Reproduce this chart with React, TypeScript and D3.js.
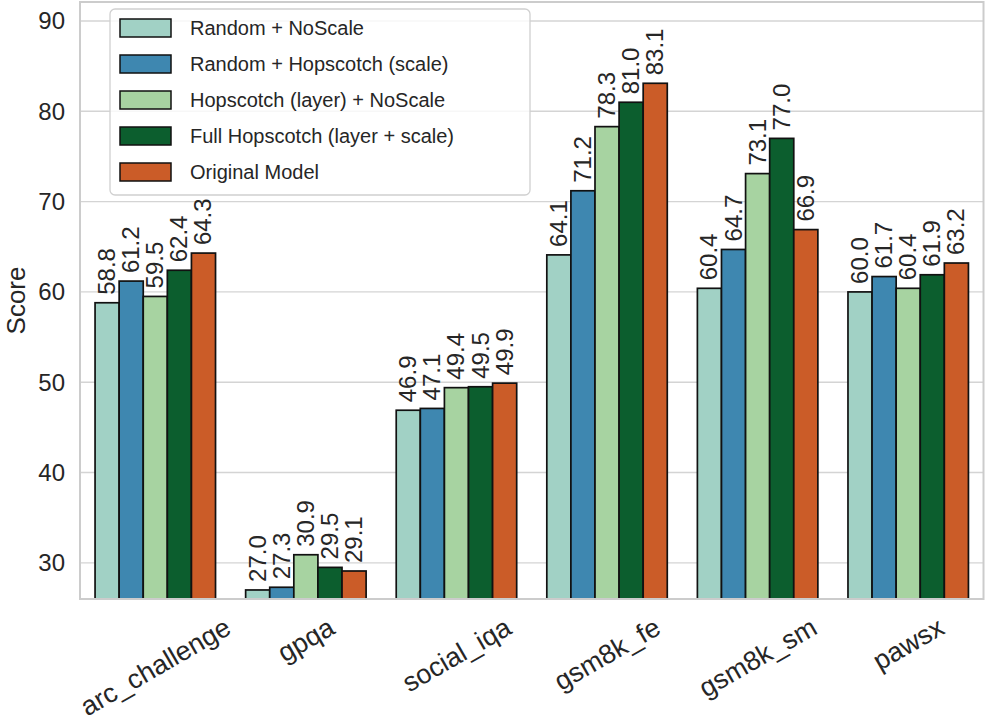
import React, { useEffect, useRef } from 'react';
import * as d3 from 'd3';

const categories = ['arc_challenge', 'gpqa', 'social_iqa', 'gsm8k_fe', 'gsm8k_sm', 'pawsx'];
const seriesNames = [
  'Random + NoScale',
  'Random + Hopscotch (scale)',
  'Hopscotch (layer) + NoScale',
  'Full Hopscotch (layer + scale)',
  'Original Model',
];
const seriesColors = ['#a1d1c5', '#3e87b0', '#a7d3a1', '#0c5e2e', '#cb5c28'];

// values per series, in category order
const randomNoScale = [58.8, 27.0, 46.9, 64.1, 60.4, 60.0];
const randomHopscotch = [61.2, 27.3, 47.1, 71.2, 64.7, 61.7];
const hopscotchLayer = [59.5, 30.9, 49.4, 78.3, 73.1, 60.4];
const fullHopscotch = [62.4, 29.5, 49.5, 81.0, 77.0, 61.9];
const originalModel = [64.3, 29.1, 49.9, 83.1, 66.9, 63.2];
const seriesValues = [randomNoScale, randomHopscotch, hopscotchLayer, fullHopscotch, originalModel];

const yTicks = [30, 40, 50, 60, 70, 80, 90];

const W = 987;
const H = 721;
const FONT = '"Liberation Sans", Arial, sans-serif';

export default function App() {
  const ref = useRef<SVGSVGElement>(null);

  useEffect(() => {
    document.body.style.margin = '0';
    const svg = d3.select(ref.current);
    svg.selectAll('*').remove();

    const left = 80;
    const right = 983.5;
    const top = 2;
    const bottom = 599;

    const x = d3.scaleBand().domain(categories).range([left, right]).paddingInner(0).paddingOuter(0);
    const y = d3.scaleLinear().domain([26, 92.1]).range([bottom, top]);
    const groupW = x.bandwidth() * 0.8;
    const bw = groupW / seriesNames.length;

    // gridlines
    svg
      .append('g')
      .selectAll('line')
      .data(yTicks)
      .join('line')
      .attr('x1', left)
      .attr('x2', right)
      .attr('y1', (d) => y(d))
      .attr('y2', (d) => y(d))
      .attr('stroke', '#d4d4d4')
      .attr('stroke-width', 1.4);

    // bars + value labels
    const bars = svg.append('g');
    seriesValues.forEach((vals, si) => {
      const g = bars.append('g');
      g.selectAll('rect')
        .data(vals)
        .join('rect')
        .attr('x', (_, i) => x(categories[i])! + x.bandwidth() / 2 - groupW / 2 + si * bw)
        .attr('y', (d) => y(d))
        .attr('width', bw)
        .attr('height', (d) => y(26) - y(d))
        .attr('fill', seriesColors[si])
        .attr('stroke', '#111')
        .attr('stroke-width', 1.7);

      g.selectAll('text')
        .data(vals)
        .join('text')
        .attr('transform', (d, i) => {
          const cx = x(categories[i])! + x.bandwidth() / 2 - groupW / 2 + si * bw + bw / 2;
          return `translate(${cx + 8},${y(d) - 8}) rotate(-90)`;
        })
        .attr('font-family', FONT)
        .attr('font-size', 24)
        .attr('fill', '#262626')
        .text((d) => d.toFixed(1));
    });

    // spines
    svg
      .append('rect')
      .attr('x', left)
      .attr('y', top)
      .attr('width', right - left)
      .attr('height', bottom - top)
      .attr('fill', 'none')
      .attr('stroke', '#cccccc')
      .attr('stroke-width', 2);

    // y ticks
    svg
      .append('g')
      .selectAll('text')
      .data(yTicks)
      .join('text')
      .attr('x', left - 15)
      .attr('y', (d) => y(d))
      .attr('dy', '0.35em')
      .attr('text-anchor', 'end')
      .attr('font-family', FONT)
      .attr('font-size', 24)
      .attr('fill', '#262626')
      .text((d) => d);

    // y label
    svg
      .append('text')
      .attr('transform', `translate(25,${(top + bottom) / 2}) rotate(-90)`)
      .attr('text-anchor', 'middle')
      .attr('font-family', FONT)
      .attr('font-size', 26)
      .attr('fill', '#262626')
      .text('Score');

    // x tick labels, rotated 30deg, centred on tick (matplotlib ha=center)
    const fs = 27;
    const xl = svg.append('g');
    categories.forEach((c) => {
      const t = xl
        .append('text')
        .attr('text-anchor', 'middle')
        .attr('font-family', FONT)
        .attr('font-size', fs)
        .attr('fill', '#262626')
        .attr('y', fs * 0.35)
        .text(c);
      const L = (t.node() as SVGTextElement).getComputedTextLength();
      const hb = fs * 1.15;
      const bboxH = L * 0.5 + hb * 0.866;
      const cy = 611 + bboxH / 2;
      const cx = x(c)! + x.bandwidth() / 2;
      t.attr('transform', `translate(${cx},${cy}) rotate(-30)`);
    });

    // legend
    const lg = svg.append('g');
    lg.append('rect')
      .attr('x', 110)
      .attr('y', 9)
      .attr('width', 420)
      .attr('height', 186)
      .attr('rx', 5)
      .attr('fill', 'white')
      .attr('fill-opacity', 0.8)
      .attr('stroke', '#d0d0d0')
      .attr('stroke-width', 1.3);
    const rowY = d3.scaleLinear().domain([0, seriesNames.length - 1]).range([28, 172]);
    const rows = lg
      .selectAll('g.row')
      .data(seriesNames)
      .join('g')
      .attr('class', 'row')
      .attr('transform', (_, i) => `translate(0,${rowY(i)})`);
    rows
      .append('rect')
      .attr('x', 120)
      .attr('y', -9)
      .attr('width', 51)
      .attr('height', 18)
      .attr('fill', (_, i) => seriesColors[i])
      .attr('stroke', '#111')
      .attr('stroke-width', 1.5);
    rows
      .append('text')
      .attr('x', 190)
      .attr('dy', '0.36em')
      .attr('font-family', FONT)
      .attr('font-size', 20)
      .attr('fill', '#262626')
      .text((d) => d);
  }, []);

  return <svg ref={ref} width={W} height={H} style={{ display: 'block', background: 'white' }} />;
}
